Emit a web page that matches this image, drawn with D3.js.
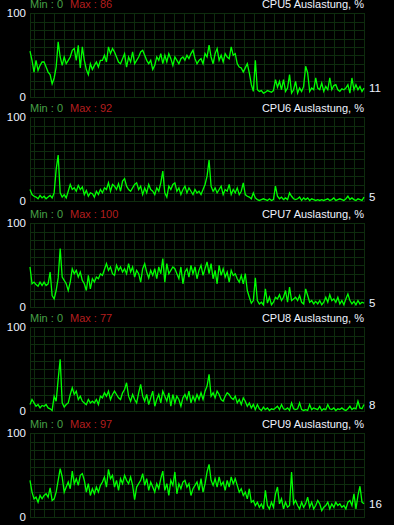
<!DOCTYPE html>
<html><head><meta charset="utf-8">
<script src="https://cdn.jsdelivr.net/npm/d3@7"></script>
<style>html,body{margin:0;padding:0;background:#000;overflow:hidden}svg{display:block}</style>
</head><body>
<svg id="c" width="394" height="525"></svg>
<script>
const titles = ["CPU5 Auslastung, %","CPU6 Auslastung, %","CPU7 Auslastung, %","CPU8 Auslastung, %","CPU9 Auslastung, %"];
const minVals = [0,0,0,0,0];
const maxVals = [86,92,100,77,97];
const yTickLabels = ["0","100"];

const cpu5 = [55,44,
30,44,32,38,42, 42,36,30,27,16, 23,36,66,48,38, 48,40,44,48,56, 58,44,62,35,60,
44,33,27,40,33, 38,42,36,44,44, 50,42,60,52,58, 54,48,42,40,46, 52,36,48,42,54,
40,44,48,54,56, 50,44,40,44,33, 38,48,44,52,40, 50,42,52,46,38, 48,44,40,46,48,
44,50,46,52,56, 46,40,44,46,40, 52,48,62,48,40, 52,58,44,50,42, 52,48,46,60,50,
52,40,36,35,30, 35,40,29,15,7, 44,9,7,8,5, 6,8,7,6,8, 21,12,19,9,21,
7,11,27,5,9, 19,5,11,7,13, 37,29,7,11,9, 23,11,9,17,7, 13,9,23,9,14,
15,9,7,10,9, 11,15,5,23,9, 15,9,13,7,11];

const cpu6 = [14,8,
6,5,3,7,4, 6,3,5,7,4, 10,38,55,10,5, 8,4,12,20,14, 16,12,19,14,17,
8,13,6,10,9, 5,12,8,14,10, 16,14,22,12,20, 18,14,21,12,24, 27,18,14,12,16,
20,22,14,18,8, 16,10,20,14,12, 8,16,12,22,36, 10,5,18,14,20, 22,12,16,8,14,
18,10,16,12,8, 14,10,12,8,14, 20,30,49,18,12, 16,10,14,18,8, 14,12,20,8,14,
10,16,8,12,22, 8,6,5,3,10, 4,2,1,2,3, 2,1,3,1,2, 18,6,3,5,2,
4,2,10,6,3, 2,3,5,1,4, 2,4,1,3,2, 1,2,1,2,1, 2,3,1,2,4,
1,2,3,2,1, 3,6,2,4,2, 1,3,2,1,5];

const cpu7 = [48,28,
30,27,25,30,26, 30,26,28,42,14, 10,20,35,70,36, 32,28,20,30,46, 40,44,36,42,32,
28,20,38,22,34, 30,36,34,40,38, 45,52,44,48,40, 38,50,44,48,42, 46,40,52,42,48,
36,44,40,30,46, 52,42,35,44,38, 46,34,48,40,58, 30,52,40,44,48, 46,40,34,48,28,
42,46,36,50,40, 48,34,44,50,38, 46,54,40,52,34, 44,28,50,38,46, 36,42,30,44,38,
40,34,30,38,28, 40,20,12,5,8, 35,8,4,6,3, 22,5,12,3,6, 12,10,15,8,12,
20,6,24,8,10, 12,8,14,6,4, 22,14,6,8,4, 7,4,8,3,6, 12,6,15,8,10,
6,12,4,8,3, 10,16,8,4,7, 3,8,4,6,5];

const cpu8 = [8,14,
10,6,8,4,7, 6,8,4,3,1, 18,12,38,62,10, 5,8,10,20,28, 20,24,14,18,12,
10,8,14,10,12, 10,14,8,18,16, 22,18,24,14,20, 24,20,16,14,22, 26,34,18,12,20,
14,10,22,32,18, 12,20,8,16,24, 6,14,20,10,24, 18,12,22,6,20, 10,18,14,6,16,
20,14,24,10,18, 12,20,14,22,14, 24,30,44,18,22, 16,24,20,14,12, 18,22,20,16,14,
18,10,14,8,16, 12,6,10,4,8, 2,8,3,1,5, 2,4,1,3,2, 4,6,2,8,3,
2,4,1,10,3, 2,3,10,2,1, 2,1,8,2,4, 3,2,6,1,3, 2,8,3,2,4,
1,3,2,4,2, 1,3,6,2,4, 3,12,4,3,8];

const cpu9 = [44,30,
22,24,18,26,22, 26,28,24,35,20, 22,30,44,58,48, 30,36,42,34,55, 40,46,38,50,52,
44,30,40,26,34, 28,36,30,38,42, 48,36,57,46,50, 36,44,32,46,40, 50,44,40,48,38,
21,36,40,44,52, 38,46,32,42,36, 30,40,34,46,55, 32,40,26,44,38, 54,28,40,34,42,
44,36,40,26,34, 38,42,32,46,30, 40,54,63,44,38, 46,36,48,38,42, 32,44,36,48,40,
46,38,30,34,26, 30,22,34,18,20, 14,18,12,16,10, 32,14,10,18,12, 28,36,16,22,10,
18,12,14,54,16, 20,14,10,18,12, 16,24,12,18,10, 14,20,16,8,12, 14,18,10,16,12,
18,14,16,12,14, 10,18,20,14,28, 10,26,37,18,16];

const series = [cpu5,cpu6,cpu7,cpu8,cpu9];

// layout
const panelTop = [13.3,117.3,223.3,327.3,433.3];
const plotH = 84, x0 = 30, x1 = 365;
const gridColor = "#0e2c0e";
const font = "'Liberation Sans', Arial, sans-serif";
const svg = d3.select("#c");

series.forEach((data,i) => {
  const top = panelTop[i], bot = top + plotH;
  const g = svg.append("g");
  const y = d3.scaleLinear().domain([0,100]).range([bot, top]);
  const x = d3.scaleLinear().domain([0, data.length-1]).range([x0, x1-1]);

  // grid
  const grid = g.append("g").attr("stroke", gridColor).attr("stroke-width",1.3).attr("shape-rendering","crispEdges");
  d3.range(0,101,10).forEach(v => {
    const yy = Math.round(y(v)) + 0.5;
    grid.append("line").attr("x1",x0).attr("x2",x1).attr("y1",yy).attr("y2",yy);
  });
  const vx = [x0].concat(d3.range(x0+4, x1+1, 10));
  vx.forEach(xx => {
    grid.append("line").attr("x1",xx+0.5).attr("x2",xx+0.5)
      .attr("y1",Math.round(top)+0.5).attr("y2",Math.round(bot)+0.5);
  });

  // line
  const line = d3.line().x((d,j)=>x(j)).y(d=>y(d));
  g.append("path").datum(data).attr("d",line)
    .attr("fill","none").attr("stroke","#00ff00").attr("stroke-width",1.3)
    .attr("stroke-linejoin","miter");

  // y labels
  const yAxis = d3.axisLeft(y).tickValues([0,100]).tickSize(0).tickPadding(4)
    .tickFormat((d,k)=>yTickLabels[k]);
  const ax = g.append("g").attr("transform",`translate(${x0},0)`).call(yAxis);
  ax.select(".domain").remove();
  ax.selectAll("text").attr("fill","#eef3ff").attr("font-family",font).attr("font-size","11.5px");

  // header
  const hy = top - 5.5;
  g.append("text").attr("x",x0).attr("y",hy).attr("fill","#46a046")
    .attr("font-family",font).attr("font-size","11px").text("Min : " + minVals[i]);
  g.append("text").attr("x",70).attr("y",hy).attr("fill","#b41e1e")
    .attr("font-family",font).attr("font-size","11px").text("Max : " + maxVals[i]);
  g.append("text").attr("x",x1-1).attr("y",hy).attr("fill","#eef3ff").attr("text-anchor","end")
    .attr("font-family",font).attr("font-size","11px").text(titles[i]);

  // current value
  const last = data[data.length-1];
  g.append("text").attr("x",369).attr("y",y(last)).attr("dy","0.36em").attr("fill","#eef3ff")
    .attr("font-family",font).attr("font-size","11.5px").text(last);
});
</script>
</body></html>
